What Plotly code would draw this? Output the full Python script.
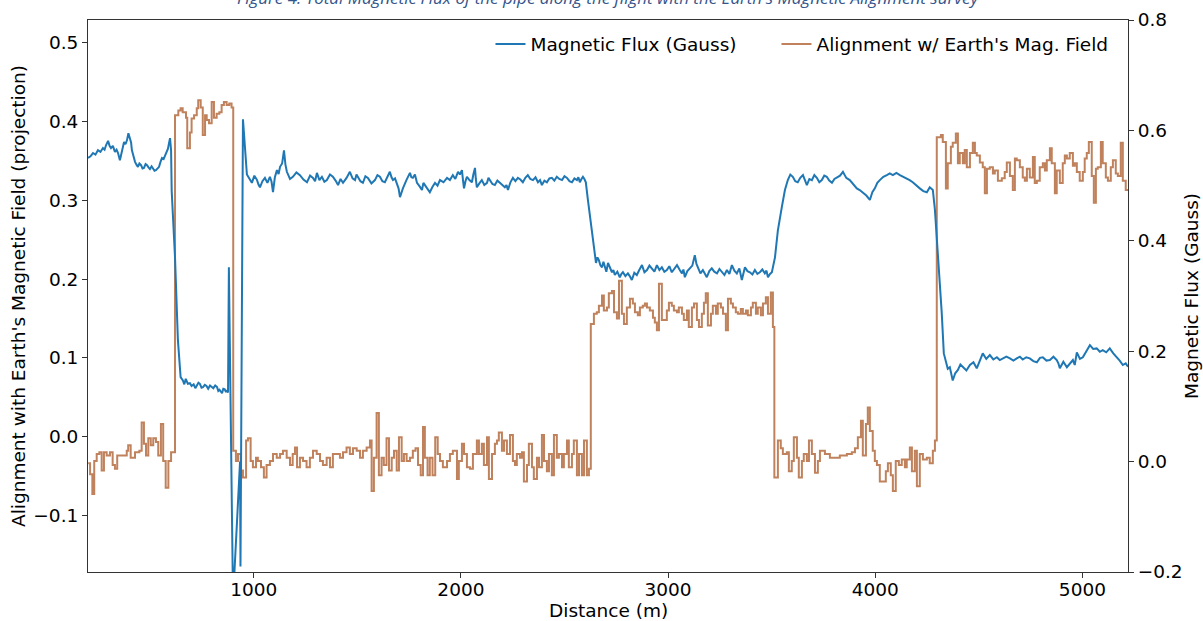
import plotly.graph_objects as go

# ---------------- data ----------------
flux_distance = [
    200, 212, 224, 236, 248, 260, 272, 280, 287, 297, 304, 311, 320, 330, 338, 345, 354, 360, 364, 370,
    374, 381, 388, 395, 403, 408, 412, 420, 427, 434, 441, 448, 456, 463, 470, 478, 485, 492, 499, 507,
    514, 521, 528, 536, 543, 550, 557, 565, 572, 581, 586, 591, 596, 601, 604, 620, 634, 647,
    658, 665, 672, 682, 692, 700, 710, 718, 726, 733, 740, 748, 755, 764, 772, 780, 789, 797, 805, 814,
    823, 829, 835, 841, 847, 853, 860, 866, 871, 876, 880, 900, 934, 936, 948,
    967, 979, 991, 1003, 1016, 1023, 1030, 1042, 1054, 1066, 1078, 1086, 1093, 1102, 1112, 1120, 1127, 1137, 1146, 1153,
    1160, 1175, 1189, 1206, 1223, 1240, 1257, 1272, 1286, 1296, 1305, 1317, 1329, 1341, 1353, 1368, 1382, 1395, 1407, 1419,
    1431, 1448, 1464, 1477, 1489, 1496, 1503, 1515, 1527, 1539, 1551, 1568, 1585, 1597, 1609, 1621, 1633, 1645, 1657, 1665,
    1672, 1682, 1691, 1699, 1706, 1713, 1720, 1737, 1754, 1761, 1768, 1778, 1788, 1800, 1812, 1819, 1826, 1838, 1850, 1863,
    1875, 1887, 1899, 1916, 1933, 1947, 1961, 1973, 1986, 1995, 2005, 2010, 2015, 2022, 2029, 2041, 2053, 2060, 2068, 2072,
    2077, 2089, 2101, 2113, 2126, 2133, 2140, 2152, 2164, 2176, 2188, 2200, 2212, 2220, 2227, 2239, 2251, 2263, 2275, 2287,
    2299, 2311, 2323, 2335, 2348, 2360, 2372, 2382, 2391, 2403, 2415, 2427, 2439, 2451, 2463, 2475, 2488, 2500, 2512, 2524,
    2536, 2548, 2560, 2567, 2574, 2582, 2589, 2596, 2603,
    2613, 2622, 2632, 2642, 2652, 2659, 2666, 2673, 2681, 2688, 2695, 2702, 2710, 2720, 2729, 2736, 2743, 2755, 2767, 2775,
    2782, 2794, 2806, 2815, 2825, 2837, 2849, 2861, 2874, 2886, 2898, 2910, 2922, 2934, 2946, 2958, 2970, 2982, 2994, 3006,
    3018, 3030, 3043, 3055, 3067, 3074, 3081, 3093, 3105, 3117, 3129, 3137, 3144, 3156, 3168, 3177, 3187, 3199, 3211, 3223,
    3236, 3248, 3260, 3272, 3284, 3296, 3308, 3320, 3332, 3344, 3356, 3364, 3371, 3383, 3395, 3407, 3419, 3431, 3443, 3455,
    3467, 3475, 3482, 3492, 3501, 3516, 3530, 3549, 3564, 3578,
    3590, 3602, 3614, 3626, 3638, 3651, 3660, 3670, 3682, 3694, 3706, 3718, 3730, 3742, 3754, 3766, 3778, 3791, 3803, 3815,
    3830, 3844, 3860, 3877, 3894, 3911, 3925, 3940, 3957, 3974, 3986, 3998, 4010, 4022, 4039, 4056, 4070, 4085, 4102, 4119,
    4135, 4152, 4166, 4181, 4198, 4215, 4232, 4249, 4263, 4278, 4288, 4302, 4321, 4331, 4341, 4350, 4360, 4367, 4374, 4386,
    4399, 4411, 4423, 4440, 4457, 4474, 4490, 4505, 4519, 4536, 4553, 4570, 4587, 4601, 4616, 4633, 4650, 4667, 4683, 4698,
    4712, 4729, 4746, 4763, 4780, 4795, 4809, 4826, 4843, 4860, 4876, 4884, 4891, 4908, 4925, 4940, 4954, 4963, 4973, 4988,
    5002, 5019, 5036, 5052, 5069, 5084, 5098, 5115, 5132, 5149, 5166, 5180, 5195, 5209, 5220,
]
flux_gauss = [
    0.550, 0.553, 0.559, 0.556, 0.564, 0.561, 0.568, 0.565, 0.573, 0.581, 0.572, 0.568, 0.572, 0.561, 0.565, 0.559, 0.546, 0.555, 0.561, 0.570,
    0.579, 0.575, 0.582, 0.595, 0.586, 0.578, 0.564, 0.552, 0.543, 0.538, 0.534, 0.540, 0.537, 0.531, 0.532, 0.539, 0.537, 0.533, 0.530, 0.535,
    0.532, 0.527, 0.528, 0.531, 0.534, 0.543, 0.550, 0.548, 0.555, 0.561, 0.567, 0.577, 0.586, 0.564, 0.490, 0.370, 0.220, 0.153,
    0.147, 0.140, 0.150, 0.141, 0.142, 0.137, 0.140, 0.133, 0.138, 0.143, 0.141, 0.134, 0.135, 0.139, 0.137, 0.132, 0.138, 0.136, 0.133, 0.138,
    0.135, 0.128, 0.130, 0.127, 0.124, 0.132, 0.131, 0.126, 0.129, 0.125, 0.352, -0.250, 0.000, -0.190, 0.620,
    0.520, 0.512, 0.505, 0.518, 0.510, 0.502, 0.497, 0.508, 0.514, 0.505, 0.516, 0.507, 0.488, 0.515, 0.528, 0.521, 0.534, 0.540, 0.564, 0.538,
    0.525, 0.512, 0.516, 0.524, 0.519, 0.511, 0.506, 0.518, 0.514, 0.508, 0.523, 0.510, 0.516, 0.507, 0.510, 0.520, 0.516, 0.509, 0.501, 0.512,
    0.505, 0.514, 0.525, 0.513, 0.510, 0.520, 0.516, 0.508, 0.505, 0.517, 0.514, 0.504, 0.510, 0.519, 0.516, 0.508, 0.506, 0.515, 0.525, 0.515,
    0.510, 0.513, 0.505, 0.495, 0.479, 0.488, 0.495, 0.510, 0.523, 0.515, 0.514, 0.520, 0.505, 0.499, 0.492, 0.505, 0.501, 0.494, 0.488, 0.498,
    0.505, 0.500, 0.510, 0.506, 0.514, 0.510, 0.519, 0.512, 0.525, 0.520, 0.528, 0.510, 0.495, 0.508, 0.516, 0.510, 0.506, 0.520, 0.532, 0.512,
    0.497, 0.504, 0.510, 0.501, 0.505, 0.514, 0.510, 0.503, 0.501, 0.509, 0.505, 0.500, 0.497, 0.501, 0.492, 0.506, 0.514, 0.508, 0.514, 0.511,
    0.506, 0.514, 0.519, 0.512, 0.510, 0.515, 0.506, 0.510, 0.501, 0.509, 0.506, 0.513, 0.514, 0.509, 0.516, 0.512, 0.510, 0.517, 0.514, 0.508,
    0.506, 0.513, 0.510, 0.515, 0.506, 0.512, 0.516, 0.512, 0.506,
    0.474, 0.445, 0.419, 0.389, 0.360, 0.370, 0.365, 0.356, 0.352, 0.362, 0.350, 0.344, 0.360, 0.350, 0.343, 0.347, 0.338, 0.344, 0.334, 0.340,
    0.343, 0.336, 0.341, 0.336, 0.329, 0.342, 0.338, 0.347, 0.356, 0.343, 0.347, 0.355, 0.350, 0.344, 0.356, 0.347, 0.352, 0.344, 0.347, 0.354,
    0.343, 0.349, 0.356, 0.348, 0.341, 0.348, 0.334, 0.345, 0.350, 0.355, 0.374, 0.358, 0.352, 0.341, 0.347, 0.340, 0.334, 0.345, 0.350, 0.344,
    0.341, 0.349, 0.343, 0.338, 0.347, 0.340, 0.356, 0.346, 0.341, 0.350, 0.329, 0.342, 0.352, 0.345, 0.343, 0.339, 0.347, 0.340, 0.343, 0.348,
    0.341, 0.346, 0.334, 0.340, 0.343, 0.370, 0.419, 0.461, 0.492, 0.510,
    0.520, 0.516, 0.508, 0.506, 0.514, 0.519, 0.510, 0.501, 0.512, 0.510, 0.519, 0.514, 0.506, 0.510, 0.518, 0.516, 0.509, 0.505, 0.512, 0.514,
    0.518, 0.525, 0.514, 0.510, 0.502, 0.495, 0.492, 0.488, 0.482, 0.474, 0.488, 0.495, 0.505, 0.510, 0.516, 0.519, 0.522, 0.519, 0.523, 0.519,
    0.516, 0.514, 0.510, 0.506, 0.500, 0.495, 0.490, 0.488, 0.497, 0.492, 0.456, 0.383, 0.269, 0.196, 0.178, 0.168, 0.171, 0.160, 0.147, 0.160,
    0.166, 0.176, 0.171, 0.165, 0.175, 0.180, 0.169, 0.182, 0.196, 0.186, 0.193, 0.185, 0.189, 0.184, 0.187, 0.190, 0.187, 0.183, 0.187, 0.190,
    0.185, 0.189, 0.187, 0.182, 0.180, 0.188, 0.189, 0.183, 0.184, 0.190, 0.184, 0.178, 0.169, 0.181, 0.171, 0.178, 0.184, 0.175, 0.198, 0.186,
    0.189, 0.200, 0.211, 0.204, 0.205, 0.199, 0.202, 0.198, 0.205, 0.196, 0.189, 0.183, 0.175, 0.178, 0.172,
]

align_distance = [
    201, 210, 221, 230, 242, 255, 266, 277, 290, 306, 319, 330, 341, 387, 394, 406, 427, 448, 459, 470,
    480, 491, 503, 515, 528, 539, 552, 563, 575, 588, 601,
    620, 636, 647, 657, 673, 679, 692, 700, 712, 725, 732, 744, 754, 765, 773, 784, 797, 808, 821, 834,
    845, 856, 869, 882, 893,
    901, 914, 924, 937, 948, 963, 972, 985, 996, 1011, 1020, 1035, 1049, 1062, 1078, 1093, 1111, 1127, 1141, 1159,
    1175, 1188, 1199, 1209, 1223, 1238, 1255, 1271, 1286, 1304, 1320, 1334, 1352, 1368, 1382, 1416, 1431, 1448, 1464, 1479,
    1497, 1513, 1527, 1545, 1561, 1569, 1580, 1593, 1604, 1617, 1628, 1641, 1653, 1666, 1677, 1690, 1701, 1714, 1725, 1738,
    1754, 1768, 1781, 1793, 1806, 1817, 1826, 1839, 1850, 1863, 1876, 1888, 1899, 1913, 1933, 1947, 1961, 1981, 1990, 2005,
    2015, 2029, 2044, 2058, 2077, 2087, 2101, 2111, 2126, 2135, 2150, 2164, 2174, 2183, 2198, 2208, 2222, 2237, 2251, 2261,
    2270, 2285, 2295, 2304, 2319, 2328, 2343, 2352, 2367, 2377, 2391, 2401, 2415, 2425, 2439, 2449, 2463, 2473, 2488, 2497,
    2512, 2521, 2536, 2545, 2560, 2570, 2584, 2594, 2608, 2618,
    2627, 2642, 2656, 2666, 2681, 2690, 2705, 2714, 2729, 2739, 2753, 2763, 2777, 2787, 2801, 2816, 2830, 2840, 2854, 2864,
    2878, 2888, 2898, 2912, 2927, 2936, 2946, 2956, 2970, 2994, 3004, 3018, 3028, 3043, 3052, 3067, 3076, 3091, 3100, 3115,
    3125, 3139, 3149, 3163, 3173, 3182, 3192, 3207, 3216, 3231, 3240, 3255, 3265, 3279, 3289, 3303, 3313, 3327, 3337, 3351,
    3361, 3376, 3385, 3400, 3409, 3424, 3433, 3448, 3458, 3472, 3482, 3496, 3506,
    3513, 3530, 3544, 3554, 3573, 3583, 3597, 3607, 3622, 3631, 3646, 3655, 3670, 3680, 3694, 3709, 3723, 3733, 3757, 3781,
    3829, 3863, 3887, 3902, 3916, 3931, 3940, 3955, 3964, 3974, 3988, 3998, 4008, 4022, 4051, 4061, 4075, 4085, 4099, 4114,
    4128, 4143, 4152, 4167, 4177, 4191, 4201, 4215, 4230, 4249, 4263, 4278, 4288,
    4297, 4317, 4326, 4341, 4350, 4365, 4374, 4389, 4399, 4408, 4423, 4432, 4442, 4457, 4471, 4481, 4490, 4505, 4519, 4529,
    4539, 4553, 4568, 4577, 4592, 4611, 4625, 4635, 4650, 4664, 4674, 4683, 4698, 4712, 4722, 4732, 4746, 4761, 4770, 4780,
    4794, 4809, 4819, 4828, 4843, 4852, 4867, 4876, 4891, 4905, 4915, 4925, 4939, 4954, 4963, 4973, 4987, 5002, 5011, 5021,
    5031, 5045, 5055, 5065, 5074, 5089, 5098, 5113, 5123, 5137, 5147, 5161, 5171, 5185, 5195, 5209, 5220,
]
align_projection = [
    -0.034, -0.048, -0.073, -0.031, -0.022, -0.020, -0.043, -0.020, -0.024, -0.020, -0.036, -0.041, -0.024, -0.018, -0.011, -0.027, -0.020, -0.018, 0.018, -0.009,
    -0.024, -0.002, -0.011, -0.002, -0.007, -0.024, 0.016, -0.031, -0.065, -0.031, -0.020,
    0.408, 0.414, 0.417, 0.412, 0.405, 0.366, 0.386, 0.404, 0.408, 0.417, 0.427, 0.418, 0.383, 0.408, 0.402, 0.398, 0.425, 0.405, 0.410, 0.412,
    0.421, 0.425, 0.421, 0.423, 0.418,
    -0.018, -0.031, -0.022, -0.043, -0.052, -0.005, -0.002, -0.031, -0.039, -0.027, -0.031, -0.039, -0.052, -0.036, -0.031, -0.022, -0.027, -0.022, -0.018, -0.027,
    -0.036, -0.022, -0.014, -0.039, -0.027, -0.031, -0.039, -0.027, -0.018, -0.022, -0.031, -0.036, -0.027, -0.039, -0.022, -0.027, -0.020, -0.014, -0.022, -0.015,
    -0.018, -0.027, -0.018, -0.014, -0.005, -0.069, -0.027, 0.030, -0.049, -0.027, -0.036, -0.002, -0.043, -0.027, -0.018, -0.043, -0.001, -0.031, -0.022, -0.031,
    -0.027, -0.018, -0.015, -0.036, -0.049, 0.012, -0.027, -0.049, -0.027, -0.049, -0.001, -0.022, -0.031, -0.039, -0.031, -0.022, -0.018, -0.054, -0.031, -0.009,
    -0.022, -0.039, -0.041, -0.022, -0.005, -0.022, -0.009, -0.036, -0.001, -0.054, -0.022, -0.009, -0.005, 0.005, -0.018, -0.005, -0.022, 0.002, -0.031, -0.036,
    -0.022, -0.027, -0.020, -0.057, -0.036, -0.009, -0.039, -0.054, -0.027, -0.039, 0.002, -0.031, -0.044, -0.022, -0.049, 0.002, -0.027, -0.022, -0.039, -0.022,
    -0.005, -0.039, -0.022, -0.005, -0.049, -0.022, -0.049, -0.005, -0.049, -0.041,
    0.143, 0.156, 0.158, 0.166, 0.179, 0.160, 0.164, 0.182, 0.185, 0.158, 0.150, 0.198, 0.156, 0.143, 0.164, 0.175, 0.169, 0.158, 0.154, 0.164,
    0.166, 0.169, 0.164, 0.160, 0.151, 0.145, 0.135, 0.194, 0.148, 0.160, 0.170, 0.166, 0.160, 0.158, 0.164, 0.156, 0.148, 0.160, 0.139, 0.164,
    0.169, 0.148, 0.139, 0.156, 0.170, 0.182, 0.141, 0.156, 0.166, 0.156, 0.169, 0.164, 0.156, 0.135, 0.175, 0.169, 0.164, 0.158, 0.156, 0.162,
    0.156, 0.160, 0.154, 0.164, 0.170, 0.156, 0.164, 0.154, 0.169, 0.177, 0.156, 0.183, 0.139,
    -0.052, -0.005, -0.015, -0.022, -0.020, -0.044, -0.031, -0.001, -0.027, -0.052, -0.031, -0.022, -0.031, -0.005, -0.022, -0.046, -0.031, -0.018, -0.022, -0.027,
    -0.024, -0.022, -0.020, -0.015, -0.001, 0.020, -0.024, 0.016, 0.037, 0.007, -0.018, -0.031, -0.036, -0.057, -0.044, -0.034, -0.049, -0.069, -0.031, -0.036,
    -0.029, -0.039, -0.029, -0.014, -0.044, -0.018, -0.063, -0.022, -0.029, -0.027, -0.034, -0.018, -0.005,
    0.380, 0.383, 0.374, 0.315, 0.347, 0.368, 0.373, 0.385, 0.347, 0.360, 0.347, 0.364, 0.342, 0.360, 0.373, 0.360, 0.357, 0.348, 0.342, 0.309,
    0.340, 0.342, 0.334, 0.338, 0.325, 0.328, 0.336, 0.348, 0.331, 0.313, 0.353, 0.351, 0.342, 0.329, 0.325, 0.340, 0.329, 0.355, 0.322, 0.325,
    0.342, 0.347, 0.338, 0.351, 0.366, 0.347, 0.309, 0.338, 0.322, 0.347, 0.357, 0.353, 0.360, 0.344, 0.347, 0.336, 0.325, 0.336, 0.353, 0.360,
    0.374, 0.331, 0.297, 0.340, 0.342, 0.374, 0.347, 0.329, 0.325, 0.342, 0.351, 0.334, 0.331, 0.373, 0.325, 0.313, 0.313,
]

x_ticks = [1000, 2000, 3000, 4000, 5000]
left_ticks = [-0.1, 0.0, 0.1, 0.2, 0.3, 0.4, 0.5]
right_ticks = [-0.2, 0.0, 0.2, 0.4, 0.6, 0.8]

title_text = "Figure 4: Total Magnetic Flux of the pipe along the flight with the Earth's Magnetic Alignment survey"
x_title = "Distance (m)"
left_title = "Alignment with Earth's Magnetic Field (projection)"
right_title = "Magnetic Flux (Gauss)"

BLUE = "#1f77b4"
ORANGE = "#c0825c"
FONT = "DejaVu Sans"
FS = 18.5


def fmt(v):
    return f"{v:.1f}".replace("-", "\u2212")


fig = go.Figure()
fig.add_trace(go.Scatter(
    x=align_distance, y=align_projection, mode="lines", line=dict(color=ORANGE, width=2, shape="hv"),
    name="Alignment w/ Earth's Mag. Field", yaxis="y", legend="legend2",
))
fig.add_trace(go.Scatter(
    x=flux_distance, y=flux_gauss, mode="lines", line=dict(color=BLUE, width=2),
    name="Magnetic Flux (Gauss)", yaxis="y2", legend="legend",
))

axis_common = dict(showgrid=False, zeroline=False, showline=True, linecolor="#333", linewidth=1,
                   ticks="outside", ticklen=5, tickcolor="#333", automargin=False,
                   tickfont=dict(family=FONT, size=FS, color="black"))

legend_common = dict(orientation="h", xanchor="left", y=0.99, yanchor="top",
                     bgcolor="rgba(0,0,0,0)", font=dict(family=FONT, size=FS))

fig.update_layout(
    width=1203, height=621,
    margin=dict(l=88, r=75, t=20, b=49, autoexpand=False),
    plot_bgcolor="white", paper_bgcolor="white",
    font=dict(family=FONT, size=FS, color="black"),
    xaxis=dict(range=[200, 5220], tickvals=x_ticks, mirror=True, ticklabelstandoff=-4, **axis_common),
    yaxis=dict(range=[-0.172, 0.529], tickvals=left_ticks, ticktext=[fmt(v) for v in left_ticks],
               **axis_common),
    yaxis2=dict(range=[-0.2, 0.8], tickvals=right_ticks, ticktext=[fmt(v) for v in right_ticks],
                overlaying="y", side="right", **axis_common),
    legend=dict(x=0.387, **legend_common),
    legend2=dict(x=0.662, **legend_common),
    showlegend=True,
)

# axis titles as annotations for exact placement
fig.add_annotation(text=x_title, xref="paper", yref="paper", x=0.5, y=0, xanchor="center", yanchor="middle",
                   yshift=-38, showarrow=False, font=dict(family=FONT, size=FS, color="black"))
fig.add_annotation(text=left_title, xref="paper", yref="paper", x=0, y=0.5, xanchor="center", yanchor="middle",
                   xshift=-70, textangle=-90, showarrow=False, font=dict(family=FONT, size=FS, color="black"))
fig.add_annotation(text=right_title, xref="paper", yref="paper", x=1, y=0.5, xanchor="center", yanchor="middle",
                   xshift=63, textangle=-90, showarrow=False, font=dict(family=FONT, size=FS, color="black"))

# caption (cut off at the top edge, as in the source image)
fig.add_annotation(text=title_text, xref="paper", yref="paper", x=0.5, y=1, xanchor="center", yanchor="bottom",
                   yshift=9, showarrow=False,
                   font=dict(family="Open Sans", size=17, color="#34558b", style="italic"))

fig.write_html("out.html", config={"displayModeBar": False},
               post_script="document.body.style.margin='0';document.body.style.padding='0';"
                           "document.body.style.overflow='hidden';")
